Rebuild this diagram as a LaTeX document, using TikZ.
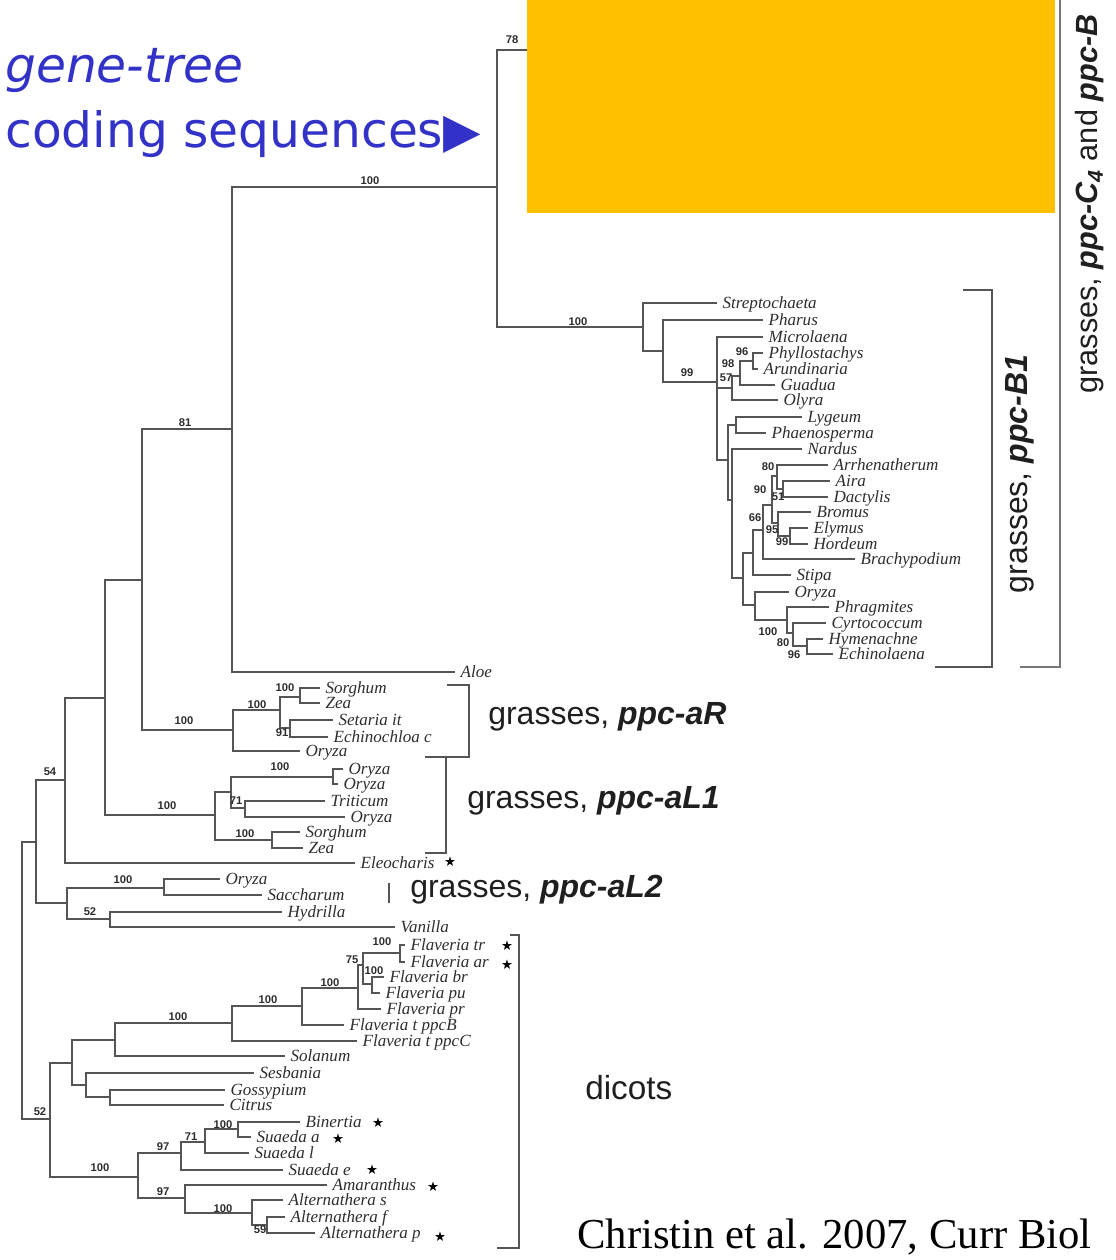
\documentclass[tikz,border=0pt]{standalone}
\usepackage{fontspec}
\setmainfont{Liberation Serif}
\setsansfont{Liberation Sans}
\newfontfamily\comicf{DejaVu Sans}
\newfontfamily\symf{DejaVu Sans}
\definecolor{treeline}{RGB}{85,85,85}
\definecolor{txtgray}{RGB}{45,45,45}
\definecolor{blu}{RGB}{50,50,200}
\definecolor{orng}{RGB}{255,192,0}
\tikzset{
  br/.style={draw=treeline, line width=0.9pt},
  brk/.style={draw=treeline, line width=1pt},
  taxon/.style={anchor=west, inner xsep=4pt, inner ysep=0pt, text height=10pt, text depth=2.5pt,
                font=\fontsize{12.8}{13}\selectfont\itshape, text=txtgray},
  bval/.style={inner sep=0pt, font=\sffamily\bfseries\fontsize{8.4}{9}\selectfont, text=txtgray},
  starsty/.style={inner sep=0pt, font=\symf\fontsize{10}{10}\selectfont, text=black},
  grp/.style={inner sep=0pt, font=\sffamily\fontsize{24}{26}\selectfont, text=black!88},
  bluetext/.style={anchor=base west, inner sep=0pt, text=blu},
}
\newcommand\tx[4]{\node[taxon] (#1) at (#2,#3) {#4};}
\newcommand\bv[4]{\node[bval] (#1) at (#2,#3) {#4};}
\newcommand\cn[3]{\coordinate (#1) at (#2,#3);}
\newcommand\strr[3]{\node[starsty] (#1) at (#2,#3) {★};}

\begin{document}
\begin{tikzpicture}[x=0.75pt,y=-0.75pt]
\useasboundingbox (0,0) rectangle (1115,1260);

% ---------- top clade leaves ----------
\tx{Strep}{717}{303}{Streptochaeta}
\tx{Phar}{763}{320}{Pharus}
\tx{Micr}{763}{337}{Microlaena}
\tx{Phyl}{763}{353}{Phyllostachys}
\tx{Arun}{758}{369}{Arundinaria}
\tx{Guad}{775}{385}{Guadua}
\tx{Olyr}{778}{400}{Olyra}
\tx{Lyge}{802}{417}{Lygeum}
\tx{Phae}{766}{433}{Phaenosperma}
\tx{Nard}{802}{449}{Nardus}
\tx{Arrh}{828}{465}{Arrhenatherum}
\tx{Aira}{830}{481}{Aira}
\tx{Dact}{828}{497}{Dactylis}
\tx{Brom}{811}{512}{Bromus}
\tx{Elym}{808}{528}{Elymus}
\tx{Hord}{808}{544}{Hordeum}
\tx{Brac}{855}{559}{Brachypodium}
\tx{Stip}{791}{575}{Stipa}
\tx{OryB}{789}{592}{Oryza}
\tx{Phra}{829}{607}{Phragmites}
\tx{Cyrt}{826}{623}{Cyrtococcum}
\tx{Hyme}{823}{639}{Hymenachne}
\tx{Echi}{833}{654}{Echinolaena}
\tx{Aloe}{455}{672}{Aloe}

\cn{hid}{560}{50}
\cn{n78}{497}{187}
\cn{nB}{232}{429}
\cn{nA}{142}{580}
\cn{nStr}{643}{327}
\cn{nPh}{663}{351}
\cn{nM}{717}{382}
\cn{n57}{732}{388}
\cn{n98}{740}{376}
\cn{n96}{753}{361}
\cn{nL}{728}{460}
\cn{nLy}{736}{425}
\cn{nR}{732}{500}
\cn{nU}{743}{578}
\cn{nSti}{753}{553}
\cn{n66}{763}{530}
\cn{n90}{772}{505}
\cn{n80a}{777}{476}
\cn{n51}{783}{489}
\cn{n95}{778}{523}
\cn{n99}{790}{536}
\cn{nOry}{755}{605}
\cn{n100b}{787}{620}
\cn{n80b}{793}{633}
\cn{n96b}{807}{646}

% ---------- aR clade ----------
\cn{naR}{233}{730}
\cn{n100s}{280}{710}
\cn{nSZ}{300}{697}
\cn{nSE}{290}{728}
\tx{SorA}{320}{688}{Sorghum}
\tx{ZeaA}{320}{703}{Zea}
\tx{Seta}{333}{720}{Setaria it}
\tx{Echc}{328}{737}{Echinochloa c}
\tx{OryR}{300}{751}{Oryza}

% ---------- aL1 clade ----------
\cn{nX105}{105}{698}
\cn{naL1}{215}{815}
\cn{nAA}{231}{792}
\cn{nOO}{333}{777}
\cn{n71}{245}{808}
\cn{nSZ2}{272}{840}
\tx{OryL1}{343}{769}{Oryza}
\tx{OryL2}{338}{784}{Oryza}
\tx{Trit}{325}{801}{Triticum}
\tx{OryL3}{345}{817}{Oryza}
\tx{SorB}{300}{832}{Sorghum}
\tx{ZeaB}{303}{848}{Zea}

% ---------- other monocots ----------
\cn{n65}{65}{780}
\tx{Eleo}{355}{863}{Eleocharis}
\cn{n36}{36}{842}
\cn{n67}{67}{903}
\cn{nOS}{164}{888}
\cn{nHV}{110}{919}
\tx{OryS}{220}{879}{Oryza}
\tx{Sacc}{262}{895}{Saccharum}
\tx{Hydr}{282}{912}{Hydrilla}
\tx{Vani}{395}{927}{Vanilla}
\cn{root}{22}{980}

% ---------- dicots ----------
\cn{nW}{50}{1119}
\cn{nY}{72}{1063}
\cn{nX}{115}{1040}
\cn{nFl}{232}{1023}
\cn{n100d}{302}{1006}
\cn{nP}{358}{988}
\cn{n75}{363}{965}
\cn{nFF}{400}{953}
\cn{n100c}{372}{984}
\tx{Fltr}{405}{945}{Flaveria tr}
\tx{Flar}{405}{962}{Flaveria ar}
\tx{Flbr}{384}{977}{Flaveria br}
\tx{Flpu}{380}{993}{Flaveria pu}
\tx{Flpr}{381}{1009}{Flaveria pr}
\tx{FltB}{344}{1025}{Flaveria t ppcB}
\tx{FltC}{357}{1041}{Flaveria t ppcC}
\tx{Sola}{285}{1056}{Solanum}
\cn{nZ}{86}{1085}
\cn{nG}{110}{1097}
\tx{Sesb}{254}{1073}{Sesbania}
\tx{Goss}{225}{1090}{Gossypium}
\tx{Citr}{224}{1105}{Citrus}
\cn{nAm}{138}{1177}
\cn{nSu}{181}{1153}
\cn{nSu2}{205}{1142}
\cn{nBi}{238}{1129}
\tx{Bine}{300}{1122}{Binertia}
\tx{Suea}{251}{1137}{Suaeda a}
\tx{Suel}{249}{1153}{Suaeda l}
\tx{Suee}{283}{1170}{Suaeda e}
\cn{nAm2}{185}{1198}
\tx{Amar}{327}{1185}{Amaranthus}
\cn{nAl}{252}{1213}
\cn{n59}{267}{1225}
\tx{Alts}{283}{1200}{Alternathera s}
\tx{Altf}{285}{1217}{Alternathera f}
\tx{Altp}{315}{1233}{Alternathera p}

% ---------- branches ----------
\draw[br] (n78) |- (hid);  \draw[br] (n78) |- (nStr);
\draw[br] (nB) |- (n78);   \draw[br] (nB) |- (Aloe.west);
\draw[br] (nA) |- (nB);    \draw[br] (nA) |- (naR);
\draw[br] (nStr) |- (Strep.west); \draw[br] (nStr) |- (nPh);
\draw[br] (nPh) |- (Phar.west);   \draw[br] (nPh) |- (nM);
\draw[br] (nM) |- (Micr.west); \draw[br] (nM) |- (n57); \draw[br] (nM) |- (nL);
\draw[br] (n57) |- (n98);  \draw[br] (n57) |- (Olyr.west);
\draw[br] (n98) |- (n96);  \draw[br] (n98) |- (Guad.west);
\draw[br] (n96) |- (Phyl.west); \draw[br] (n96) |- (Arun.west);
\draw[br] (nL) |- (nLy);   \draw[br] (nL) |- (nR);
\draw[br] (nLy) |- (Lyge.west); \draw[br] (nLy) |- (Phae.west);
\draw[br] (nR) |- (Nard.west);  \draw[br] (nR) |- (nU);
\draw[br] (nU) |- (nSti);  \draw[br] (nU) |- (nOry);
\draw[br] (nSti) |- (n66); \draw[br] (nSti) |- (Stip.west);
\draw[br] (n66) |- (n90);  \draw[br] (n66) |- (Brac.west);
\draw[br] (n90) |- (n80a); \draw[br] (n90) |- (n95);
\draw[br] (n80a) |- (Arrh.west); \draw[br] (n80a) |- (n51);
\draw[br] (n51) |- (Aira.west);  \draw[br] (n51) |- (Dact.west);
\draw[br] (n95) |- (Brom.west);  \draw[br] (n95) |- (n99);
\draw[br] (n99) |- (Elym.west);  \draw[br] (n99) |- (Hord.west);
\draw[br] (nOry) |- (OryB.west); \draw[br] (nOry) |- (n100b);
\draw[br] (n100b) |- (Phra.west); \draw[br] (n100b) |- (n80b);
\draw[br] (n80b) |- (Cyrt.west);  \draw[br] (n80b) |- (n96b);
\draw[br] (n96b) |- (Hyme.west);  \draw[br] (n96b) |- (Echi.west);

\draw[br] (naR) |- (n100s); \draw[br] (naR) |- (OryR.west);
\draw[br] (n100s) |- (nSZ); \draw[br] (n100s) |- (nSE);
\draw[br] (nSZ) |- (SorA.west); \draw[br] (nSZ) |- (ZeaA.west);
\draw[br] (nSE) |- (Seta.west); \draw[br] (nSE) |- (Echc.west);

\draw[br] (nX105) |- (nA);  \draw[br] (nX105) |- (naL1);
\draw[br] (naL1) |- (nAA);  \draw[br] (naL1) |- (nSZ2);
\draw[br] (nAA) |- (nOO);   \draw[br] (nAA) |- (n71);
\draw[br] (nOO) |- (OryL1.west); \draw[br] (nOO) |- (OryL2.west);
\draw[br] (n71) |- (Trit.west);  \draw[br] (n71) |- (OryL3.west);
\draw[br] (nSZ2) |- (SorB.west); \draw[br] (nSZ2) |- (ZeaB.west);

\draw[br] (n65) |- (nX105); \draw[br] (n65) |- (Eleo.west);
\draw[br] (n36) |- (n65);   \draw[br] (n36) |- (n67);
\draw[br] (n67) |- (nOS);   \draw[br] (n67) |- (nHV);
\draw[br] (nOS) |- (OryS.west); \draw[br] (nOS) |- (Sacc.west);
\draw[br] (nHV) |- (Hydr.west); \draw[br] (nHV) |- (Vani.west);
\draw[br] (root) |- (n36);  \draw[br] (root) |- (nW);

\draw[br] (nW) |- (nY);   \draw[br] (nW) |- (nAm);
\draw[br] (nY) |- (nX);   \draw[br] (nY) |- (nZ);
\draw[br] (nX) |- (nFl);  \draw[br] (nX) |- (Sola.west);
\draw[br] (nFl) |- (n100d); \draw[br] (nFl) |- (FltC.west);
\draw[br] (n100d) |- (nP);  \draw[br] (n100d) |- (FltB.west);
\draw[br] (nP) |- (n75);    \draw[br] (nP) |- (Flpr.west);
\draw[br] (n75) |- (nFF);   \draw[br] (n75) |- (n100c);
\draw[br] (nFF) |- (Fltr.west); \draw[br] (nFF) |- (Flar.west);
\draw[br] (n100c) |- (Flbr.west); \draw[br] (n100c) |- (Flpu.west);
\draw[br] (nZ) |- (Sesb.west); \draw[br] (nZ) |- (nG);
\draw[br] (nG) |- (Goss.west); \draw[br] (nG) |- (Citr.west);
\draw[br] (nAm) |- (nSu);  \draw[br] (nAm) |- (nAm2);
\draw[br] (nSu) |- (nSu2); \draw[br] (nSu) |- (Suee.west);
\draw[br] (nSu2) |- (nBi); \draw[br] (nSu2) |- (Suel.west);
\draw[br] (nBi) |- (Bine.west); \draw[br] (nBi) |- (Suea.west);
\draw[br] (nAm2) |- (Amar.west); \draw[br] (nAm2) |- (nAl);
\draw[br] (nAl) |- (Alts.west);  \draw[br] (nAl) |- (n59);
\draw[br] (n59) |- (Altf.west);  \draw[br] (n59) |- (Altp.west);

% ---------- support values ----------
\bv{b1}{512}{40}{78}
\bv{b2}{370}{181}{100}
\bv{b3}{578}{322}{100}
\bv{b4}{185}{423}{81}
\bv{b5}{687}{373}{99}
\bv{b6}{742}{352}{96}
\bv{b7}{728}{364}{98}
\bv{b8}{726}{378}{57}
\bv{b9}{768}{467}{80}
\bv{b10}{760}{490}{90}
\bv{b11}{778}{497}{51}
\bv{b12}{755}{518}{66}
\bv{b13}{772}{530}{95}
\bv{b14}{782}{542}{99}
\bv{b15}{768}{632}{100}
\bv{b16}{783}{643}{80}
\bv{b17}{794}{655}{96}
\bv{b18}{285}{688}{100}
\bv{b19}{257}{705}{100}
\bv{b20}{184}{721}{100}
\bv{b21}{282}{733}{91}
\bv{b22}{280}{767}{100}
\bv{b23}{236}{801}{71}
\bv{b24}{167}{806}{100}
\bv{b25}{245}{834}{100}
\bv{b26}{50}{772}{54}
\bv{b27}{123}{880}{100}
\bv{b28}{90}{912}{52}
\bv{b29}{382}{942}{100}
\bv{b30}{352}{960}{75}
\bv{b31}{374}{971}{100}
\bv{b32}{330}{983}{100}
\bv{b33}{268}{1000}{100}
\bv{b34}{178}{1017}{100}
\bv{b35}{40}{1112}{52}
\bv{b36}{223}{1125}{100}
\bv{b37}{191}{1137}{71}
\bv{b38}{163}{1147}{97}
\bv{b39}{100}{1168}{100}
\bv{b40}{163}{1192}{97}
\bv{b41}{223}{1209}{100}
\bv{b42}{260}{1230}{59}

% ---------- stars ----------
\strr{s1}{450}{862}
\strr{s2}{507}{946}
\strr{s3}{507}{965}
\strr{s4}{378}{1123}
\strr{s5}{338}{1139}
\strr{s6}{372}{1170}
\strr{s7}{433}{1187}
\strr{s8}{440}{1237}

% ---------- brackets ----------
\draw[brk] (963,290) -- (992,290) -- (992,667) -- (935,667);
\draw[brk, draw=treeline!80] (1060,0) -- (1060,667) -- (1020,667);
\draw[brk] (447,685) -- (469,685) -- (469,757) -- (425,757);
\draw[brk] (446,757) -- (446,853) -- (425,853);
\draw[brk] (389,883) -- (389,903);
\draw[brk] (510,935) -- (519,935) -- (519,1248) -- (497,1248);

% ---------- orange box ----------
\fill[orng] (527,0) rectangle (1055,213);

% ---------- group labels ----------
\node[grp, anchor=west] (gaR) at (488,717) {grasses, \textbf{\textit{ppc-aR}}};
\node[grp, anchor=west] (gaL1) at (467,801) {grasses, \textbf{\textit{ppc-aL1}}};
\node[grp, anchor=west] (gaL2) at (410,890) {grasses, \textbf{\textit{ppc-aL2}}};
\node[grp, anchor=west, font=\sffamily\fontsize{25}{27}\selectfont] (gdic) at (585,1088) {dicots};
\node[grp, rotate=90] (gB1) at (1020,474) {grasses, \textbf{\textit{ppc-B1}}};
\node[grp, rotate=90, font=\sffamily\fontsize{23}{25}\selectfont] (gC4) at (1090,204) {grasses, \textbf{\textit{ppc-C\textsubscript{4}}} and \textbf{\textit{ppc-B}}};

% ---------- blue annotation ----------
\node[bluetext, font=\comicf\itshape\fontsize{36.5}{40}\selectfont] (gtree) at (5,82) {gene-tree};
\node[bluetext, font=\comicf\fontsize{36.5}{40}\selectfont] (cseq) at (5,147) {coding sequences▶};

% ---------- citation ----------
\node[anchor=base west, inner sep=0pt, font=\fontsize{32}{34}\selectfont, text=black] (cite) at (577,1248) {Christin et al. 2007, Curr Biol};
\end{tikzpicture}
\end{document}
